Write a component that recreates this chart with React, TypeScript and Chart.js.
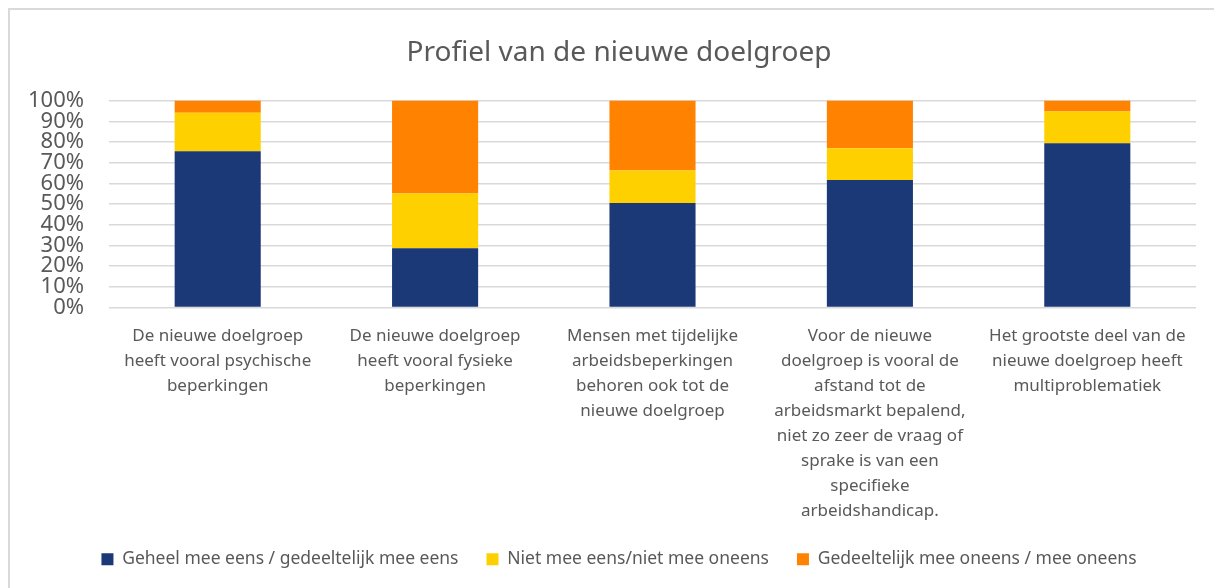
import React, { useEffect, useRef } from "react";
import { Chart, registerables } from "chart.js";

Chart.register(...registerables);

const categories: string[][] = [
  ["De nieuwe doelgroep", "heeft vooral psychische", "beperkingen"],
  ["De nieuwe doelgroep", "heeft vooral fysieke", "beperkingen"],
  ["Mensen met tijdelijke", "arbeidsbeperkingen", "behoren ook tot de", "nieuwe doelgroep"],
  ["Voor de nieuwe", "doelgroep is vooral de", "afstand tot de", "arbeidsmarkt bepalend,", "niet zo zeer de vraag of", "sprake is van een", "specifieke", "arbeidshandicap."],
  ["Het grootste deel van de", "nieuwe doelgroep heeft", "multiproblematiek"],
];

const seriesNames = [
  "Geheel mee eens / gedeeltelijk mee eens",
  "Niet mee eens/niet mee oneens",
  "Gedeeltelijk mee oneens / mee oneens",
];

const agree = [75.5, 28.6, 50.5, 61.6, 79.4];
const neutral = [18.6, 26.5, 15.7, 15.4, 15.3];
const disagree = [5.9, 44.9, 33.8, 23.0, 5.3];

const colors = ["#1b3877", "#ffd000", "#ff8300"];
const FONT = "'Noto Sans', 'Open Sans', sans-serif";
const TEXT = "#595959";

export default function App() {
  const ref = useRef<HTMLCanvasElement | null>(null);
  useEffect(() => {
    if (!ref.current) return;
    const chart = new Chart(ref.current, {
      type: "bar",
      data: {
        labels: categories,
        datasets: [agree, neutral, disagree].map((d, i) => ({
          label: seriesNames[i],
          data: d,
          backgroundColor: colors[i],
          borderWidth: 0,
          categoryPercentage: 1,
          barPercentage: 0.396,
        })),
      },
      options: {
        animation: false,
        responsive: false,
        maintainAspectRatio: false,
        layout: { padding: { left: 0, right: 0, top: 0, bottom: 10 } },
        plugins: {
          title: {
            display: true,
            text: "Profiel van de nieuwe doelgroep",
            color: TEXT,
            font: { family: FONT, size: 28, weight: "normal" },
            padding: { top: 26, bottom: 31 },
          },
          legend: {
            position: "bottom",
            labels: {
              color: TEXT,
              font: { family: FONT, size: 17.5 },
              boxWidth: 12,
              boxHeight: 12,
              padding: 28,
              useBorderRadius: false,
            },
          },
          tooltip: { enabled: false },
        },
        scales: {
          x: {
            stacked: true,
            grid: { display: false },
            border: { display: false },
            ticks: {
              color: TEXT,
              font: { family: FONT, size: 17, lineHeight: 1.47 },
              padding: 8,
              maxRotation: 0,
              autoSkip: false,
            },
            afterFit: (s: any) => {
              s.height = 215;
              s._computeLabelArea = () => undefined;
            },
          },
          y: {
            stacked: true,
            min: 0,
            max: 100,
            grid: { color: "#d9d9d9", lineWidth: 1.5, drawTicks: false },
            border: { display: false },
            ticks: {
              stepSize: 10,
              autoSkip: false,
              color: TEXT,
              font: { family: FONT, size: 22, lineHeight: 1 },
              padding: 25,
              callback: (v: any) => v + "%",
            },
            afterFit: (s: any) => {
              s.width = 99;
            },
          },
          yRight: {
            type: "linear",
            position: "right",
            display: true,
            grid: { display: false },
            border: { display: false },
            ticks: { display: false },
            afterFit: (s: any) => {
              s.width = 32;
            },
          },
        },
      },
    });
    return () => chart.destroy();
  }, []);

  return (
    <div
      style={{
        borderLeft: "2px solid #d9d9d9",
        borderTop: "2px solid #d9d9d9",
        width: 1212,
        height: 578,
        background: "#fff",
        overflow: "hidden",
      }}
    >
      <canvas ref={ref} width={1218} height={578} style={{ display: "block" }} />
    </div>
  );
}
